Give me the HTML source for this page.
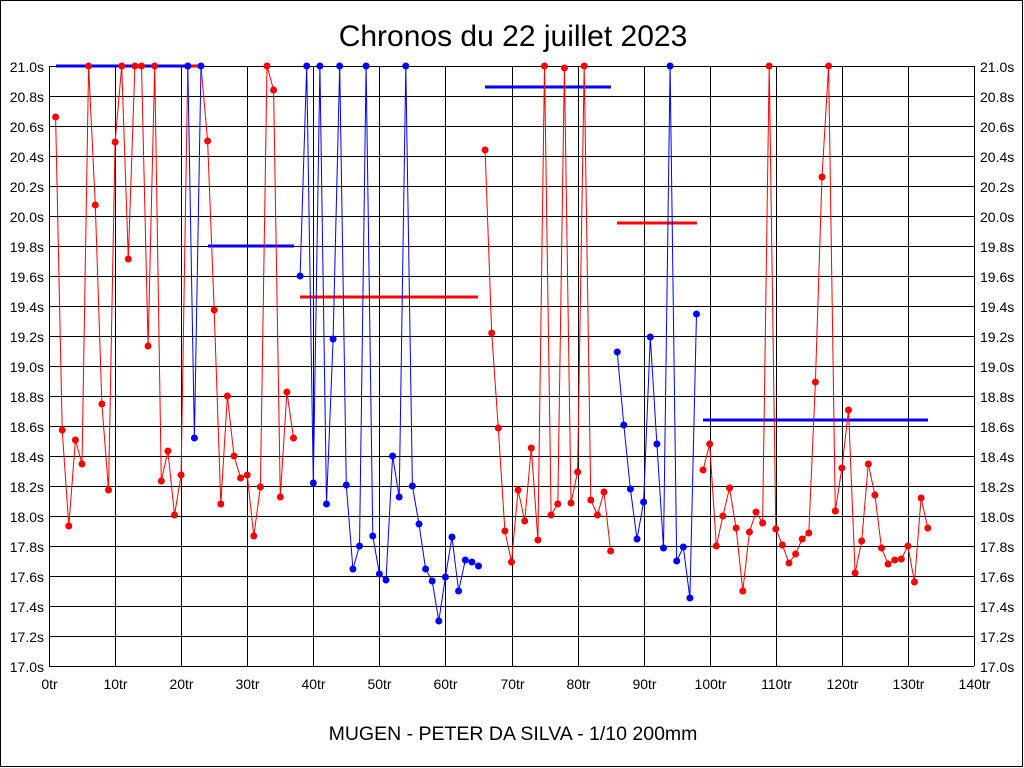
<!DOCTYPE html>
<html><head><meta charset="utf-8"><style>
body{margin:0;background:#fff;}
svg{display:block;font-family:"Liberation Sans",sans-serif;}
</style></head><body>
<svg id="s" width="1024" height="768" xmlns="http://www.w3.org/2000/svg">
<rect x="0.5" y="0.5" width="1022" height="766" fill="#fff" stroke="#000"/>
<text x="513" y="46" font-size="30" text-anchor="middle">Chronos du 22 juillet 2023</text>
<text x="513" y="740" font-size="19.5" text-anchor="middle">MUGEN - PETER DA SILVA - 1/10 200mm</text>
<g id="g"></g>
</svg>
<script>
var g=document.getElementById('g'),h='';
var L=49,R=974,T=66,B=666;
function X(i){return L+(R-L)*i/140;}
for(var k=0;k<=20;k++){var y=T+k*30;h+='<line x1="'+L+'" x2="'+R+'" y1="'+(y+0.5)+'" y2="'+(y+0.5)+'" stroke="#000"/>';
var v=(21-k*0.2).toFixed(1)+'s';
h+='<text x="'+(L-5)+'" y="'+(y+6)+'" font-size="14" text-anchor="end">'+v+'</text>';
h+='<text x="'+(R+6)+'" y="'+(y+6)+'" font-size="14">'+v+'</text>';}
for(var k=0;k<=14;k++){var x=Math.round(X(k*10))+0.5;h+='<line x1="'+x+'" x2="'+x+'" y1="'+T+'" y2="'+B+'" stroke="#000"/>';
h+='<text x="'+x+'" y="'+(B+23)+'" font-size="14" text-anchor="middle">'+(k*10)+'tr</text>';}
function ser(start,ys,col,skip){var p=[];for(var i=0;i<ys.length;i++)p.push(X(start+i).toFixed(1)+','+ys[i]);
var s='<polyline fill="none" stroke="'+col+'" stroke-width="1" points="'+p.join(' ')+'"/>';
for(var i=0;i<ys.length;i++){if(skip&&skip.indexOf(start+i)>=0)continue;s+='<circle cx="'+X(start+i).toFixed(1)+'" cy="'+ys[i]+'" r="3.5" fill="'+col+'"/>';}return s;}
function hl(x1,x2,y,col){return '<line x1="'+x1+'" x2="'+x2+'" y1="'+y+'" y2="'+y+'" stroke="'+col+'" stroke-width="3"/>';}
h+=hl(56,188,66,'#0000ff')+hl(188,201,66,'#ff0000')+hl(208,294,246,'#0000ff')+hl(300,478,297,'#ff0000')+hl(485,611,87,'#0000ff')+hl(617,697,223,'#ff0000')+hl(703,928,420,'#0000ff');
h+=ser(1,[117,430,526,440,464,66,205,404,490,142,66,259,66,66,346,66,481,451,515,475,66,66,66,141,310,504,396,456,478,475,536,487,66,90,497,392,438],'#ff0000',[21,22,23]);
h+=ser(21,[66,438,66],'#0000ff');
h+=ser(38,[276,66,483,66,504,339,66,485,569,546,66,536,574,580,456,497,66,486,524,569,581,621,577,537,591,560,562,566],'#0000ff');
h+=ser(66,[150,333,428,531,562,490,521,448,540,66,515,504,68,503,472,66,500,515,492,551],'#ff0000');
h+=ser(86,[352,425,489,539,502,337,444,548,66,561,547,598,314],'#0000ff');
h+=ser(99,[470,444,546,516,488,528,591,532,512,523,66,529,545,563,554,539,533,382,177,66,511,468,410,573,541,464,495,548,564,560,559,546,582,498,528],'#ff0000');
g.innerHTML=h;
</script>
</body></html>
